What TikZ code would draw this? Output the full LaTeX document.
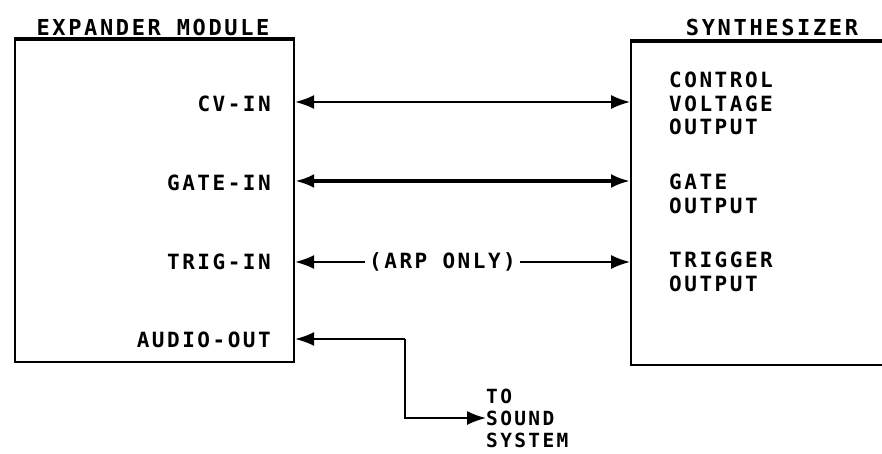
\documentclass[tikz,border=0pt]{standalone}
\usepackage{fontspec}
\newfontfamily\diafont[LetterSpace=12]{DejaVu Sans Mono Bold}
\usetikzlibrary{arrows.meta}
\begin{document}
\begin{tikzpicture}[x=1pt,y=-1pt,
  lbl/.style={font=\diafont\fontsize{21}{23.5}\selectfont, inner sep=0pt, align=left},
  boxst/.style={draw, line width=2.2pt, rectangle, inner sep=0pt},
  wire/.style={line width=1.8pt, {Latex[length=19pt,width=14pt]}-{Latex[length=19pt,width=14pt]}},
  outwire/.style={line width=1.8pt, -{Latex[length=19pt,width=14pt]}}]
\useasboundingbox (0,0) rectangle (882,453);
% boxes
\node[boxst, anchor=north west, minimum width=279pt, minimum height=322pt] (exp) at (14,39) {};
\node[boxst, anchor=north west, minimum width=270pt, minimum height=323pt] (syn) at (630,41) {};
\draw[line width=4pt] (exp.north west) -- (exp.north east);
\draw[line width=4pt] (syn.north west) -- (882,41);
% titles
\node[lbl, anchor=base, font=\diafont\fontsize{22}{24}\selectfont] (tex) at (153,35) {EXPANDER MODULE};
\node[lbl, anchor=base, font=\diafont\fontsize{22}{24}\selectfont] (tsy) at (772,35) {SYNTHESIZER};
% expander labels
\node[lbl, anchor=base east] (cvin) at (271,111) {CV-IN};
\node[lbl, anchor=base east] (gatein) at (271,190) {GATE-IN};
\node[lbl, anchor=base east] (trigin) at (271,269) {TRIG-IN};
\node[lbl, anchor=base east] (audio) at (271,347) {AUDIO-OUT};
% synth labels
\node[lbl, anchor=north west] (cvout) at (669,72) {CONTROL\\VOLTAGE\\OUTPUT};
\node[lbl, anchor=north west] (gateout) at (669,174) {GATE\\OUTPUT};
\node[lbl, anchor=north west] (trigout) at (669,252) {TRIGGER\\OUTPUT};
% wire heights
\coordinate (ycv) at (0,102);
\coordinate (ygate) at (0,181);
\coordinate (ytrig) at (0,262);
\coordinate (yaudio) at (0,339);
\coordinate (bend) at (405,339);
% connectors
\draw[wire] (exp.east |- ycv) -- (syn.west |- ycv);
\draw[wire, line width=3.4pt] (exp.east |- ygate) -- (syn.west |- ygate);
\draw[wire] (exp.east |- ytrig) -- node[pos=0.44, fill=white, lbl, inner xsep=4pt] (arp) {(ARP ONLY)} (syn.west |- ytrig);
% sound system
\node[lbl, anchor=west, font=\diafont\fontsize{19.5}{22}\selectfont] (sound) at (486,418) {TO\\SOUND\\SYSTEM};
\draw[line width=1.8pt, {Latex[length=19pt,width=14pt]}-] (exp.east |- yaudio) -- (bend);
\draw[outwire] (bend) |- (sound.west);
\end{tikzpicture}
\end{document}
